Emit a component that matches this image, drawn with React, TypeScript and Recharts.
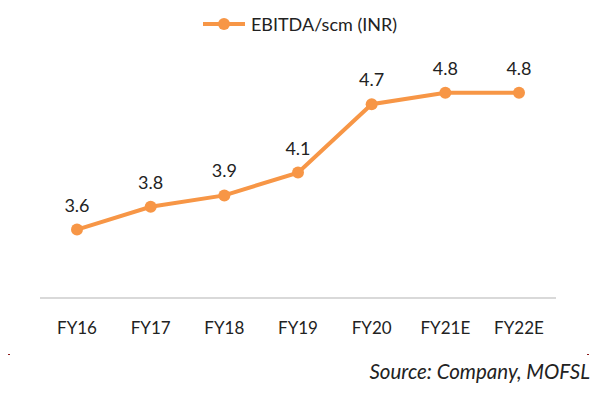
import React from 'react';
import { LineChart, Line, XAxis, YAxis, LabelList } from 'recharts';

const years = ['FY16', 'FY17', 'FY18', 'FY19', 'FY20', 'FY21E', 'FY22E'];
const ebitdaPerScm = [3.6, 3.8, 3.9, 4.1, 4.7, 4.8, 4.8];

const ORANGE = '#F79646';
const FONT = 'Lato, "Open Sans", sans-serif';

const chartData = years.map((year, i) => ({ year, value: ebitdaPerScm[i] }));

function LegendRow() {
  return (
    <div
      style={{
        position: 'absolute',
        top: 13,
        left: 0,
        width: 600,
        display: 'flex',
        justifyContent: 'center',
        alignItems: 'center',
        fontFamily: FONT,
        fontSize: 18,
        color: '#222',
      }}
    >
      <svg width={42} height={14} style={{ marginRight: 6 }}>
        <line x1={0} y1={7} x2={42} y2={7} stroke={ORANGE} strokeWidth={4} />
        <circle cx={21} cy={7} r={6} fill={ORANGE} />
      </svg>
      <span>EBITDA/scm (INR)</span>
    </div>
  );
}

export default function App() {
  return (
    <div style={{ position: 'absolute', left: 0, top: 0, width: 600, height: 399, background: '#fff' }}>
      <LegendRow />
      <LineChart
        width={600}
        height={399}
        data={chartData}
        margin={{ top: 70, right: 44, left: 40, bottom: 71 }}
      >
        <XAxis
          dataKey="year"
          height={30}
          padding={{ left: 37, right: 37 }}
          axisLine={{ stroke: '#d9d9d9', strokeWidth: 2 }}
          tickLine={false}
          tickMargin={18}
          tick={{ fill: '#222', fontSize: 17, fontFamily: FONT }}
        />
        <YAxis hide domain={[3, 5]} />
        <Line
          type="linear"
          dataKey="value"
          stroke={ORANGE}
          strokeWidth={4}
          dot={{ r: 6, fill: ORANGE, stroke: ORANGE, strokeWidth: 0 }}
          isAnimationActive={false}
        >
          <LabelList
            dataKey="value"
            position="top"
            offset={18}
            formatter={(v: number) => v.toFixed(1)}
            style={{ fill: '#222', fontSize: 18, fontFamily: FONT }}
          />
        </Line>
      </LineChart>
      <div style={{ position: 'absolute', left: 8, top: 354, width: 2, height: 1, background: '#8b1a1a' }} />
      <div style={{ position: 'absolute', left: 587, top: 354, width: 2, height: 1, background: '#8b1a1a' }} />
      <div
        style={{
          position: 'absolute',
          right: 10,
          top: 359,
          fontFamily: FONT,
          fontStyle: 'italic',
          fontSize: 20.5,
          color: '#222',
        }}
      >
        Source: Company, MOFSL
      </div>
    </div>
  );
}
